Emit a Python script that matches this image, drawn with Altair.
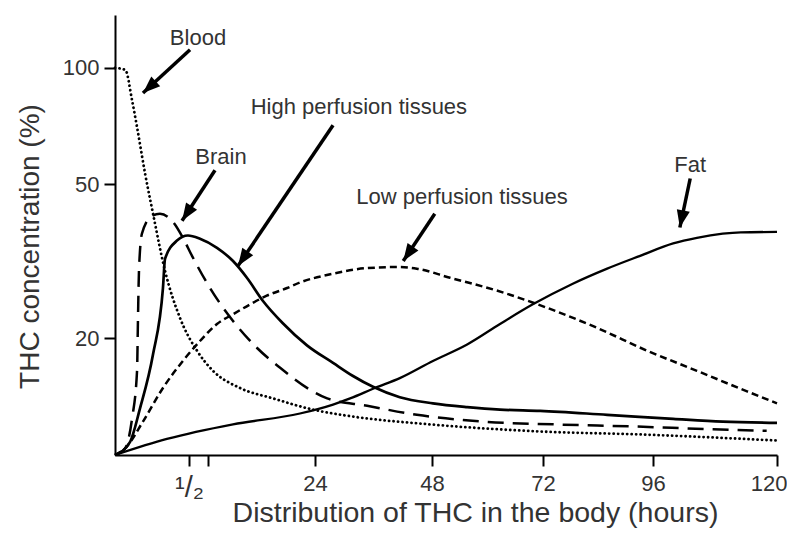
import altair as alt
import pandas as pd

# ---- data (hours, % THC) ----
blood_h = [0, 0.07, 0.115, 0.149, 0.203, 0.257, 0.338, 0.439, 1.99, 4.98, 10.0, 16.2, 23.6, 31.2, 47.6, 71.4, 93.2, 120]
blood_v = [100, 98.8, 82.6, 70.3, 53.4, 42.0, 29.9, 22.6, 18.6, 16.5, 14.9, 14.0, 13.1, 12.6, 12.0, 11.5, 11.3, 10.9]

brain_h = [0, 0.068, 0.115, 0.149, 0.155, 0.162, 0.182, 0.25, 0.304, 0.385, 0.459, 1.06, 4.42, 8.71, 13.2, 17.5, 23.6, 26.5, 34.7, 44.9, 58.8, 74.2, 91.6, 107.6, 118]
brain_v = [10, 10.4, 12.4, 16.5, 22.2, 29.9, 37.3, 41.5, 42.0, 40.3, 36.4, 32.7, 27.0, 22.2, 18.9, 16.8, 14.6, 14.0, 13.4, 12.7, 12.2, 12.0, 11.85, 11.65, 11.55]

high_h = [0, 0.101, 0.169, 0.257, 0.324, 0.338, 0.419, 0.493, 2.55, 5.72, 8.71, 11.3, 14.3, 18.0, 22.5, 27.7, 31.8, 35.9, 41.4, 48.2, 55.6, 62.7, 71.4, 86.0, 99.9, 109.5, 120]
high_v = [10, 10.8, 13.2, 18.2, 27.0, 32.1, 35.8, 36.9, 36.2, 34.3, 31.7, 28.7, 25.0, 21.9, 19.2, 17.3, 16.0, 15.0, 14.1, 13.6, 13.3, 13.1, 13.0, 12.7, 12.4, 12.2, 12.1]

low_h = [0, 0.068, 0.189, 0.324, 0.459, 2.55, 5.72, 8.71, 11.9, 15.0, 18.8, 21.2, 27.7, 34.7, 41.4, 44.9, 51.9, 62.0, 72.9, 83.8, 94.7, 104.5, 114.2, 120]
low_v = [10, 10.4, 12.2, 14.9, 17.5, 19.7, 21.8, 23.1, 24.5, 25.8, 27.0, 27.9, 29.4, 30.4, 30.6, 30.3, 28.7, 26.6, 24.0, 21.3, 18.6, 16.5, 14.6, 13.6]

fat_h = [0, 0.351, 8.71, 21.2, 27.7, 31.2, 36.3, 41.4, 48.2, 55.6, 62.7, 69.8, 78.5, 86.0, 93.2, 99.9, 104.5, 109.5, 113.0, 120]
fat_v = [10, 11.0, 12.0, 12.8, 13.5, 14.0, 14.9, 15.8, 17.5, 19.3, 21.8, 24.5, 27.7, 30.3, 32.7, 35.2, 36.4, 37.3, 37.6, 37.7]

# annotations
labels = ["Blood", "Brain", "High perfusion tissues", "Low perfusion tissues", "Fat"]
label_h = [2.18, 6.47, 33.0, 54.5, 103.2]
label_v = [119.6, 58.8, 79.2, 46.3, 56.0]
arrow_h0 = [0.69, 5.35, 27.7, 48.6, 103.2]
arrow_v0 = [111.4, 54.4, 71.1, 42.0, 51.8]
arrow_h1 = [0.189, 0.453, 9.64, 42.1, 101.2]
arrow_v1 = [86.1, 40.3, 30.8, 31.7, 38.7]
arrow_angle = [227.5, 213.4, 214.2, 214.2, 191.5]

x_ticks = [0.5, 4, 24, 48, 72, 96, 120]
y_ticks = [20, 50, 100]

FONT = "Liberation Sans"
TXT = "#333333"

x_scale = alt.Scale(domain=[0, 0.5, 24, 48, 72, 96, 120],
                    range=[0, 74, 200, 317, 428, 538, 662], nice=False)
y_scale = alt.Scale(type="log", domain=[10, 137], nice=False)

x_axis = alt.Axis(values=x_ticks,
                  labelExpr="datum.value == 0.5 ? '¹/₂' : (datum.value == 4 ? '' : datum.label)",
                  title="Distribution of THC in the body (hours)", grid=False,
                  tickSize=11, tickWidth=2, tickColor="black", domainWidth=2, domainColor="black",
                  labelFont=FONT,
                  labelFontSize={"condition": {"test": "datum.value == 0.5", "value": 29}, "value": 22},
                  labelColor=TXT, labelPadding=7,
                  labelFlush=True, labelFlushOffset=10, labelOverlap=False,
                  titleFont=FONT, titleFontSize=28.5, titleFontWeight="normal", titleColor=TXT,
                  titleX=360, titleY=66, titleAlign="center", titleBaseline="alphabetic")
y_axis = alt.Axis(values=y_ticks, title="THC concentration (%)", grid=False,
                  tickSize=11, tickWidth=2, tickColor="black", domainWidth=2, domainColor="black",
                  labelFont=FONT, labelFontSize=22, labelColor=TXT, labelPadding=5,
                  labelFlush=False, labelOverlap=False,
                  titleFont=FONT, titleFontSize=28, titleFontWeight="normal", titleColor=TXT,
                  titlePadding=18, titleY=231, titleAlign="center")


def X():
    return alt.X("h:Q", scale=x_scale, axis=x_axis)


def Y():
    return alt.Y("v:Q", scale=y_scale, axis=y_axis)


series = [
    ("Blood", blood_h, blood_v, dict(strokeDash=[0.1, 4.4], strokeCap="round", strokeWidth=2.8)),
    ("Brain", brain_h, brain_v, dict(strokeDash=[16, 9], strokeWidth=2.5)),
    ("High perfusion tissues", high_h, high_v, dict(strokeWidth=2.7)),
    ("Low perfusion tissues", low_h, low_v, dict(strokeDash=[7, 4], strokeWidth=2.5)),
    ("Fat", fat_h, fat_v, dict(strokeWidth=2.3)),
]

layers = []
for name, hs, vs, style in series:
    df = pd.DataFrame({"h": hs, "v": vs, "series": name})
    layers.append(
        alt.Chart(df).mark_line(color="black", interpolate="monotone", **style)
        .encode(x=X(), y=Y(), detail="series:N")
    )

arrows = pd.DataFrame({"h": arrow_h0, "v": arrow_v0, "h2": arrow_h1, "v2": arrow_v1})
layers.append(
    alt.Chart(arrows).mark_rule(color="black", strokeWidth=3.5)
    .encode(x=X(), y=Y(), x2="h2:Q", y2="v2:Q")
)

heads = pd.DataFrame({"h": arrow_h1, "v": arrow_v1, "angle": arrow_angle})
layers.append(
    alt.Chart(heads).mark_point(shape="M0,0 L-0.38,1 L0.38,1 Z", size=1200, filled=True,
                                color="black", opacity=1, strokeWidth=0)
    .encode(x=X(), y=Y(), angle=alt.Angle("angle:Q", scale=None))
)

texts = pd.DataFrame({"h": label_h, "v": label_v, "label": labels})
layers.append(
    alt.Chart(texts).mark_text(font=FONT, fontSize=22, color=TXT, align="center", baseline="middle")
    .encode(x=X(), y=Y(), text="label:N")
)

chart = (
    alt.layer(*layers)
    .properties(width=662, height=440,
                padding={"left": 107, "top": 7, "right": 10, "bottom": 73},
                autosize=alt.AutoSizeParams(type="none"),
                background="white")
    .configure_view(stroke=None)
)

chart.save("out.html", embed_options={"renderer": "svg", "actions": False})
